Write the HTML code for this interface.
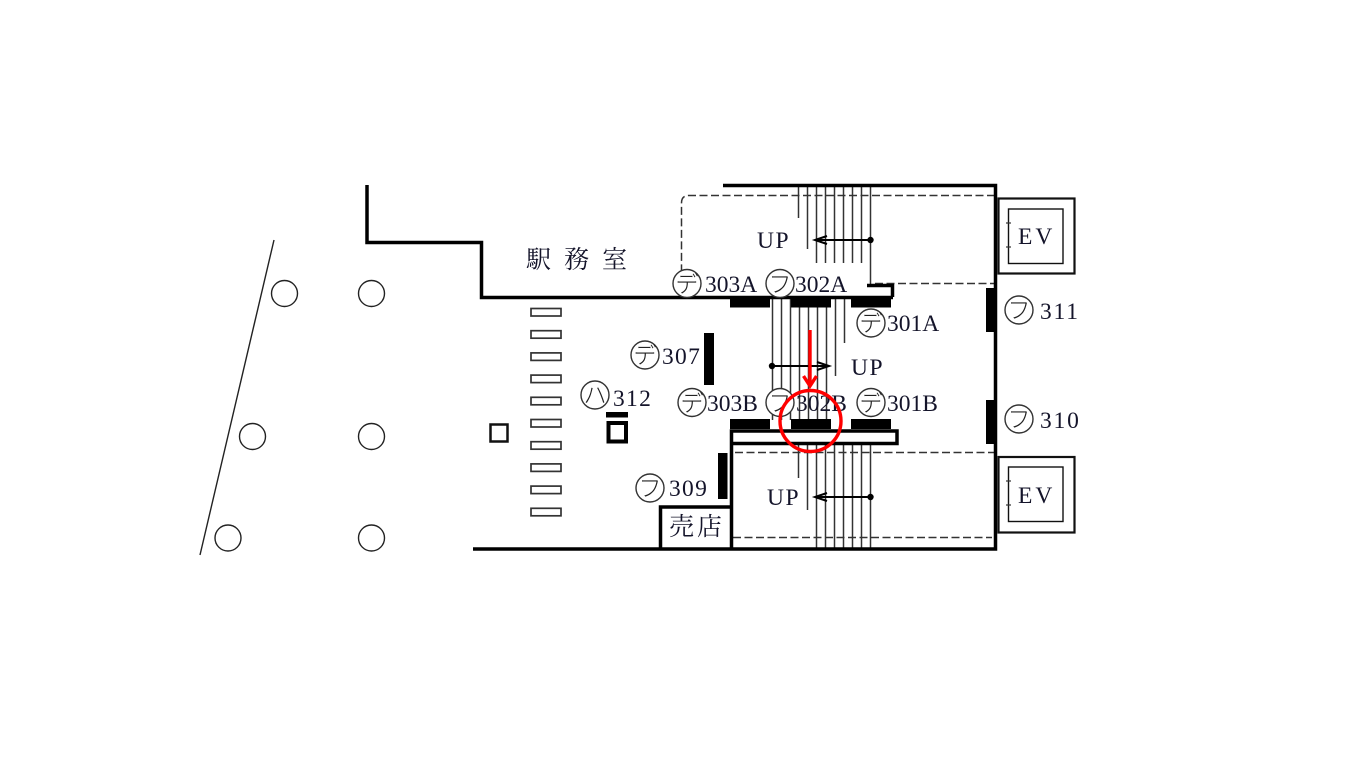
<!DOCTYPE html>
<html lang="ja">
<head>
<meta charset="utf-8">
<title>Station floor plan</title>
<style>
html,body{margin:0;padding:0;background:#fff;width:1366px;height:768px;overflow:hidden}
svg{display:block;filter:blur(0.35px)}
text{font-family:"Liberation Serif","Noto Serif CJK JP",serif;fill:#14142a}
.l{font-size:23.500px}
.k{font-family:"Noto Sans CJK JP",sans-serif;font-size:23px;font-weight:300;text-anchor:middle;fill:#222}
.j{font-family:"Noto Serif CJK JP",serif;font-size:25px}
</style>
</head>
<body>
<svg width="1366" height="768" viewBox="0 0 1366 768" xmlns="http://www.w3.org/2000/svg">
<rect width="1366" height="768" fill="#fff"/>

<!-- columns and diagonal -->
<g fill="none" stroke="#222" stroke-width="1.400">
<line x1="274" y1="240" x2="200" y2="555"/>
<circle cx="284.500" cy="293.500" r="13"/>
<circle cx="371.500" cy="293.500" r="13"/>
<circle cx="252.500" cy="436.500" r="13"/>
<circle cx="371.500" cy="436.500" r="13"/>
<circle cx="228" cy="538" r="13"/>
<circle cx="371.500" cy="538" r="13"/>
</g>

<!-- stair lines -->
<g stroke="#333" stroke-width="1.500">
<line x1="798.500" y1="186" x2="798.500" y2="218"/>
<line x1="807.500" y1="186" x2="807.500" y2="249"/>
<line x1="816.500" y1="186" x2="816.500" y2="263"/>
<line x1="825.500" y1="186" x2="825.500" y2="263"/>
<line x1="834.500" y1="186" x2="834.500" y2="263"/>
<line x1="843.500" y1="186" x2="843.500" y2="263"/>
<line x1="852.500" y1="186" x2="852.500" y2="263"/>
<line x1="861.500" y1="186" x2="861.500" y2="263"/>
<line x1="870.500" y1="186" x2="870.500" y2="284"/>

<line x1="772.500" y1="298" x2="772.500" y2="420"/>
<line x1="781.500" y1="298" x2="781.500" y2="420"/>
<line x1="790.500" y1="298" x2="790.500" y2="420"/>
<line x1="799.500" y1="298" x2="799.500" y2="420"/>
<line x1="808.500" y1="298" x2="808.500" y2="420"/>
<line x1="817.500" y1="298" x2="817.500" y2="420"/>
<line x1="826.500" y1="298" x2="826.500" y2="420"/>
<line x1="835.500" y1="298" x2="835.500" y2="376"/>
<line x1="844.500" y1="298" x2="844.500" y2="343"/>

<line x1="798.500" y1="443" x2="798.500" y2="478"/>
<line x1="807.500" y1="443" x2="807.500" y2="510"/>
<line x1="816.500" y1="443" x2="816.500" y2="549"/>
<line x1="825.500" y1="443" x2="825.500" y2="549"/>
<line x1="834.500" y1="443" x2="834.500" y2="549"/>
<line x1="843.500" y1="443" x2="843.500" y2="549"/>
<line x1="852.500" y1="443" x2="852.500" y2="549"/>
<line x1="861.500" y1="443" x2="861.500" y2="549"/>
<line x1="870.500" y1="443" x2="870.500" y2="549"/>
</g>

<!-- dashed outlines -->
<g fill="none" stroke="#333" stroke-width="1.500" stroke-dasharray="8 3.500">
<path d="M995 195.500H689Q681.500 195.500 681.500 203V272"/>
<line x1="875" y1="283.500" x2="995" y2="283.500"/>
<line x1="735" y1="452.500" x2="995" y2="452.500"/>
<line x1="733" y1="537.500" x2="992" y2="537.500"/>
</g>

<!-- walls -->
<g fill="none" stroke="#000" stroke-width="3.500">
<path d="M723 185.500H995.500V549H473"/>
<path d="M367 185V242.500H481.500V297.500H893"/>
<path d="M867 285.500H892.500V297"/>
<path d="M660.500 549V507H731.500"/>
<path d="M731.500 549V431H897V443.500H733"/>
</g>

<!-- solid blocks -->
<g fill="#000">
<rect x="730" y="298" width="40" height="9.500"/>
<rect x="791" y="298" width="40" height="9.500"/>
<rect x="851" y="298" width="40" height="9.500"/>
<rect x="730" y="419" width="40" height="10"/>
<rect x="791" y="419" width="40" height="10"/>
<rect x="851" y="419" width="40" height="10"/>
<rect x="986" y="288" width="9" height="44"/>
<rect x="986" y="400" width="9" height="44"/>
<rect x="704" y="333" width="10" height="52"/>
<rect x="718" y="453" width="9.500" height="46"/>
<rect x="606" y="412" width="22" height="5.500"/>
</g>

<!-- square pillars -->
<rect x="490.500" y="424.500" width="17" height="17" fill="none" stroke="#111" stroke-width="2.500"/>
<rect x="608.500" y="423" width="17.500" height="18.500" fill="none" stroke="#000" stroke-width="4"/>

<!-- ticket gate slots -->
<g fill="#fff" stroke="#333" stroke-width="1.700">
<rect x="531" y="308.500" width="30" height="7.500"/>
<rect x="531" y="330.700" width="30" height="7.500"/>
<rect x="531" y="352.900" width="30" height="7.500"/>
<rect x="531" y="375.100" width="30" height="7.500"/>
<rect x="531" y="397.300" width="30" height="7.500"/>
<rect x="531" y="419.500" width="30" height="7.500"/>
<rect x="531" y="441.700" width="30" height="7.500"/>
<rect x="531" y="463.900" width="30" height="7.500"/>
<rect x="531" y="486.100" width="30" height="7.500"/>
<rect x="531" y="508.300" width="30" height="7.500"/>
</g>

<!-- EV boxes -->
<g fill="#fff" stroke="#111">
<rect x="998.500" y="198.500" width="76" height="75" stroke-width="2.200"/>
<rect x="1008.500" y="209" width="54.500" height="54.500" stroke-width="1.400"/>
<rect x="998.500" y="457" width="76" height="75.500" stroke-width="2.200"/>
<rect x="1008.500" y="467" width="54.500" height="54.500" stroke-width="1.400"/>
</g>
<g stroke="#333" stroke-width="1.200">
<line x1="1006" y1="223" x2="1011" y2="223"/>
<line x1="1006" y1="247" x2="1011" y2="247"/>
<line x1="1006" y1="481" x2="1011" y2="481"/>
<line x1="1006" y1="505" x2="1011" y2="505"/>
</g>

<!-- arrows -->
<g stroke="#000" stroke-width="2" fill="none">
<path d="M870 240H815M827 236L815 240L827 244"/>
<path d="M772 366H829M817 362L829 366L817 370"/>
<path d="M870 497H815M827 493L815 497L827 501"/>
</g>
<g fill="#000">
<circle cx="870.500" cy="240" r="3.200"/>
<circle cx="772" cy="366" r="3.200"/>
<circle cx="870.500" cy="497" r="3.200"/>
</g>

<!-- label circles -->
<g fill="#fff" stroke="#333" stroke-width="1.400">
<circle cx="687" cy="283.500" r="14"/>
<circle cx="780" cy="283.500" r="14"/>
<circle cx="871" cy="323" r="14"/>
<circle cx="1019" cy="310" r="14"/>
<circle cx="692" cy="402.500" r="14"/>
<circle cx="780" cy="402.500" r="14"/>
<circle cx="871" cy="402.500" r="14"/>
<circle cx="1019" cy="419" r="14"/>
<circle cx="645" cy="355" r="14"/>
<circle cx="595" cy="395" r="14"/>
<circle cx="650" cy="488" r="14"/>
</g>
<text class="k" x="687" y="292">デ</text>
<text class="k" x="780" y="292">フ</text>
<text class="k" x="871" y="331">デ</text>
<text class="k" x="1019" y="318">フ</text>
<text class="k" x="692" y="411">デ</text>
<text class="k" x="780" y="411">フ</text>
<text class="k" x="871" y="411">デ</text>
<text class="k" x="1019" y="427">フ</text>
<text class="k" x="645" y="363">デ</text>
<text class="k" x="595" y="403">ハ</text>
<text class="k" x="650" y="496">フ</text>

<!-- number labels -->
<text class="l" x="705" y="292">303A</text>
<text class="l" x="795" y="292">302A</text>
<text class="l" x="887" y="331">301A</text>
<text class="l" x="1040" y="319" letter-spacing="1.800">311</text>
<text class="l" x="707" y="411">303B</text>
<text class="l" x="796" y="411">302B</text>
<text class="l" x="887" y="411">301B</text>
<text class="l" x="1040" y="428" letter-spacing="1.800">310</text>
<text class="l" x="662" y="364" letter-spacing="1.300">307</text>
<text class="l" x="613" y="406" letter-spacing="1.300">312</text>
<text class="l" x="669" y="496" letter-spacing="1.300">309</text>

<text class="l" x="757" y="248" letter-spacing="1.500">UP</text>
<text class="l" x="851" y="375" letter-spacing="1.500">UP</text>
<text class="l" x="767" y="505" letter-spacing="1.500">UP</text>

<text class="l" x="1018" y="244" letter-spacing="3">EV</text>
<text class="l" x="1018" y="503" letter-spacing="3">EV</text>

<text class="j" x="526" y="268" letter-spacing="13">駅務室</text>
<text class="j" x="669" y="535" letter-spacing="3">売店</text>

<!-- red annotation -->
<g fill="none" stroke="#f00">
<circle cx="810.500" cy="421" r="30.500" stroke-width="3.400"/>
<path d="M810 330V385" stroke-width="3.400"/>
<path d="M803.500 376L810 386L816.500 376" stroke-width="3.400"/>
</g>
</svg>
</body>
</html>
